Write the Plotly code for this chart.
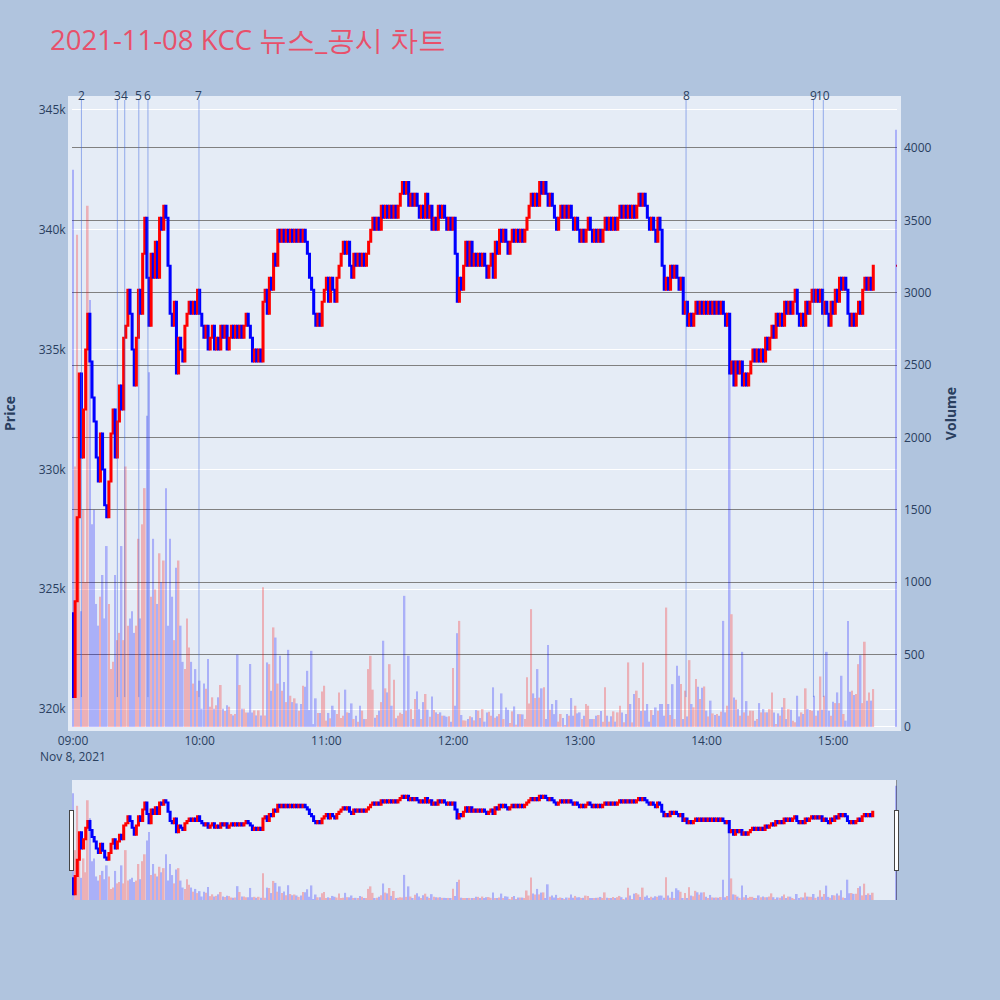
import pandas as pd
import plotly.graph_objects as go
from plotly.subplots import make_subplots

TITLE = '2021-11-08 KCC 뉴스_공시 차트'

# first trade of the day, closes per minute from 09:00 to 15:19, then the 15:30 close auction
open_price = 324000
close = [
    320500, 324500, 328000, 334000, 330500, 332500, 335000, 336500, 334500, 333000,
    332000, 330500, 329500, 331500, 330000, 328500, 328000, 329500, 331500, 332500,
    330500, 332000, 333500, 332500, 335500, 336000, 337500, 336500, 335000, 333500,
    335500, 337500, 336500, 339000, 340500, 338000, 336000, 339000, 338000, 339500,
    338000, 340500, 340000, 341000, 340500, 338500, 336500, 336000, 337000, 334000,
    335500, 335000, 334500, 336000, 336500, 337000, 336500, 337000, 336500, 337500,
    336500, 336000, 335500, 336000, 335000, 335500, 336000, 335000, 335500, 335000,
    336000, 335500, 336000, 335000, 335500, 336000, 335500, 336000, 335500, 336000,
    335500, 336000, 336500, 336000, 335500, 334500, 335000, 334500, 335000, 334500,
    337000, 337500, 336500, 338000, 337500, 339000, 338500, 340000, 339500, 340000,
    339500, 340000, 339500, 340000, 339500, 340000, 339500, 340000, 339500, 340000,
    339500, 339000, 338000, 337500, 336500, 336000, 336500, 336000, 337000, 337500,
    338000, 337000, 338000, 337500, 337000, 338000, 338500, 339000, 339500, 339000,
    339500, 338500, 338000, 339000, 338500, 339000, 338500, 339000, 338500, 339000,
    339500, 340000, 340500, 340000, 340500, 340000, 341000, 340500, 341000, 340500,
    341000, 340500, 341000, 340500, 341000, 341500, 342000, 341500, 342000, 341000,
    341500, 341000, 341500, 341000, 340500, 341000, 340500, 341500, 340500, 341000,
    340000, 340500, 340000, 341000, 340500, 341000, 340500, 340000, 340500, 340000,
    340500, 339000, 337000, 338000, 337500, 338500, 339500, 338500, 339500, 338500,
    339000, 338500, 339000, 338500, 339000, 338500, 338000, 338500, 339000, 338000,
    339500, 339000, 340000, 339500, 340000, 339500, 339000, 339500, 340000, 339500,
    340000, 339500, 340000, 339500, 340000, 340500, 341000, 341500, 341000, 341500,
    341000, 342000, 341500, 342000, 341500, 341000, 341500, 341000, 340500, 340000,
    340500, 341000, 340500, 341000, 340500, 341000, 340500, 340000, 340500, 340000,
    339500, 340000, 339500, 340000, 340500, 340000, 339500, 340000, 339500, 340000,
    339500, 340000, 340500, 340000, 340500, 340000, 340500, 340000, 340500, 341000,
    340500, 341000, 340500, 341000, 340500, 341000, 340500, 341000, 341500, 341000,
    341500, 341000, 340500, 340000, 340500, 340000, 339500, 340500, 340000, 338500,
    337500, 338000, 337500, 338500, 338000, 338500, 338000, 337500, 338000, 336500,
    337000, 336000, 336500, 336000, 336500, 337000, 336500, 337000, 336500, 337000,
    336500, 337000, 336500, 337000, 336500, 337000, 336500, 337000, 336500, 336000,
    336500, 334000, 334500, 333500, 334500, 334000, 334500, 333500, 334000, 333500,
    334000, 334500, 335000, 334500, 335000, 334500, 335000, 334500, 335500, 335000,
    335500, 336000, 335500, 336500, 336000, 336500, 336000, 337000, 336500, 337000,
    336500, 337000, 337500, 336500, 336000, 336500, 336000, 337000, 336500, 337000,
    337500, 337000, 337500, 337000, 337500, 336500, 337000, 336500, 336000, 337000,
    336500, 337500, 337000, 338000, 337500, 338000, 337500, 336500, 336000, 336500,
    336000, 336500, 337000, 336500, 337500, 338000, 337500, 338000, 337500, 338500,
    338500,
]
volume = [
    3850, 1800, 3400, 1650, 800, 1500, 1000, 3600, 2950, 1400,
    1500, 850, 700, 900, 1050, 750, 1250, 850, 400, 450,
    1050, 600, 650, 1250, 600, 1800, 700, 750, 800, 650,
    700, 1300, 750, 1400, 1650, 2150, 2450, 900, 1300, 950,
    850, 1200, 1000, 1150, 1650, 700, 1300, 900, 600, 1100,
    1150, 700, 450, 400, 750, 550, 450, 300, 400, 250,
    320, 126, 300, 265, 470, 140, 205, 126, 150, 205,
    290, 126, 110, 150, 140, 90, 80, 90, 500, 290,
    126, 126, 100, 100, 435, 100, 115, 80, 115, 80,
    965, 80, 446, 434, 250, 688, 618, 300, 492, 251,
    310, 172, 533, 216, 172, 198, 163, 113, 159, 285,
    278, 388, 117, 526, 20, 198, 97, 97, 246, 285,
    44, 97, 60, 147, 117, 89, 239, 62, 78, 258,
    101, 97, 163, 55, 78, 37, 147, 113, 55, 55,
    400, 492, 258, 64, 83, 113, 172, 596, 267, 239,
    434, 147, 326, 60, 78, 99, 90, 906, 113, 492,
    124, 55, 193, 246, 124, 55, 172, 228, 120, 71,
    211, 117, 101, 90, 101, 78, 78, 71, 74, 37,
    407, 147, 648, 733, 83, 46, 44, 55, 74, 67,
    46, 117, 113, 62, 124, 37, 101, 106, 78, 274,
    64, 74, 90, 232, 55, 135, 120, 28, 108, 142,
    16, 89, 89, 87, 55, 343, 163, 814, 232, 200,
    400, 203, 267, 274, 55, 566, 120, 159, 89, 186,
    37, 90, 62, 14, 89, 78, 200, 78, 147, 94,
    101, 55, 78, 159, 147, 55, 55, 55, 78, 83,
    110, 37, 274, 78, 37, 74, 108, 37, 101, 147,
    101, 32, 90, 446, 159, 32, 228, 251, 200, 110,
    446, 113, 159, 37, 117, 83, 135, 113, 159, 159,
    78, 825, 159, 83, 296, 55, 423, 354, 297, 55,
    251, 73, 462, 159, 136, 331, 278, 193, 271, 280,
    113, 73, 182, 94, 83, 90, 78, 106, 733, 101,
    147, 2470, 779, 204, 188, 124, 78, 519, 101, 179,
    78, 113, 113, 44, 55, 165, 101, 124, 101, 101,
    124, 239, 101, 21, 94, 78, 136, 200, 55, 124,
    120, 44, 32, 216, 73, 101, 90, 267, 124, 117,
    113, 216, 78, 113, 349, 120, 216, 519, 113, 78,
    175, 165, 239, 165, 354, 90, 44, 733, 244, 251,
    221, 228, 434, 496, 165, 589, 182, 239, 182, 262,
    4125,
]

# news / disclosure times (no. 1 came before the open)
news_times = ['09:04:00', '09:21:00', '09:24:30', '09:31:10', '09:35:30',
              '09:59:40', '13:50:20', '14:50:40', '14:55:20']
news_labels = ['2', '3', '4', '5', '6', '7', '8', '9', '10']

times = list(pd.date_range('2021-11-08 09:00', periods=380, freq='min'))
times.append(pd.Timestamp('2021-11-08 15:30'))

opens = [open_price] + close[:-1]
highs = [max(o, c) for o, c in zip(opens, close)]
lows = [min(o, c) for o, c in zip(opens, close)]
bar_colors = ['red' if c > o else 'blue' for o, c in zip(opens, close)]

price_range = [319250, 345417]
volume_range = [0, 4331]

fig = make_subplots(specs=[[{'secondary_y': True}]])

fig.add_trace(go.Candlestick(
    x=times, open=opens, high=highs, low=lows, close=close,
    increasing=dict(line=dict(color='red'), fillcolor='red'),
    decreasing=dict(line=dict(color='blue'), fillcolor='blue'),
    name='Price', showlegend=False
), secondary_y=False)

fig.add_trace(go.Bar(
    x=times, y=volume, marker=dict(color=bar_colors, line=dict(width=0)),
    opacity=0.25, name='Volume', showlegend=False
), secondary_y=True)

for t, label in zip(news_times, news_labels):
    ts = '2021-11-08 ' + t
    fig.add_shape(type='line', xref='x', yref='y', x0=ts, x1=ts,
                  y0=min(lows), y1=price_range[1],
                  line=dict(color='royalblue', width=1), opacity=0.5)
    fig.add_annotation(x=ts, y=1, xref='x', yref='paper', text=label,
                       showarrow=False, yanchor='bottom', yshift=-6,
                       font=dict(size=12, color='#2a3f5f'))

fig.update_layout(
    width=1000, height=1000,
    title=dict(text=TITLE, x=0.05, y=0.96, yanchor='middle',
               font=dict(size=27.5, color='#E8506A')),
    paper_bgcolor='lightsteelblue',
    plot_bgcolor='#E5ECF6',
    margin=dict(l=72, r=103, t=100, b=100),
    showlegend=False,
)
fig.update_xaxes(domain=[0, 1], showgrid=False,
                 range=['2021-11-08 08:59:32', '2021-11-08 15:30:14'],
                 showline=True, linewidth=4, linecolor='#E5ECF6', mirror=True,
                 rangeslider=dict(visible=True))
fig.update_yaxes(title_text='<b>Price</b>', title_standoff=22, automargin=False,
                 range=price_range,
                 showline=True, linewidth=4, linecolor='#E5ECF6', mirror=True,
                 secondary_y=False)
fig.update_yaxes(title_text='<b>Volume</b>', range=volume_range,
                 showgrid=True, gridcolor='gray', ticklabelstandoff=6,
                 secondary_y=True)

fig.write_html('out.html', config={'displayModeBar': False},
               post_script="document.body.style.margin='0';")
